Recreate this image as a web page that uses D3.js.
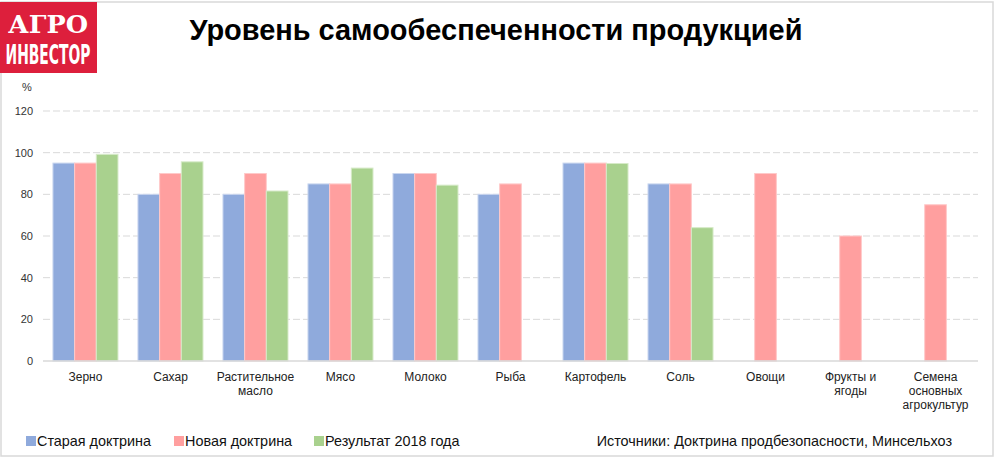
<!DOCTYPE html>
<html>
<head>
<meta charset="utf-8">
<script src="https://cdn.jsdelivr.net/npm/d3@7"></script>
<style>
  body { margin: 0; background: #fff; }
  svg { display: block; font-family: "Liberation Sans", Arial, sans-serif; }
</style>
</head>
<body>
<svg id="chart"></svg>
<script>
const categories = ["Зерно", "Сахар", "Растительное масло", "Мясо", "Молоко", "Рыба",
  "Картофель", "Соль", "Овощи", "Фрукты и ягоды", "Семена основных агрокультур"];
const categoryLines = [["Зерно"], ["Сахар"], ["Растительное", "масло"], ["Мясо"], ["Молоко"], ["Рыба"],
  ["Картофель"], ["Соль"], ["Овощи"], ["Фрукты и", "ягоды"], ["Семена", "основных", "агрокультур"]];
const seriesNames = ["Старая доктрина", "Новая доктрина", "Результат 2018 года"];
const oldDoctrine = [95, 80, 80, 85, 90, 80, 95, 85, null, null, null];
const newDoctrine = [95, 90, 90, 85, 90, 85, 95, 85, 90, 60, 75];
const result2018 = [99.2, 95.6, 81.6, 92.6, 84.4, null, 94.8, 64, null, null, null];
const yTicks = [0, 20, 40, 60, 80, 100, 120];
const colors = ["#8faadc", "#ff9f9f", "#a9d18e"];
const strokes = ["#c9d6ef", "#ffc9c9", "#d6eac8"];

const width = 998, height = 458;
const margin = {left: 43, right: 20, top: 111, bottom: 97};

const svg = d3.select('#chart')
    .attr('width', width)
    .attr('height', height);

// frame
svg.append('rect')
    .attr('x', 1).attr('y', 2)
    .attr('width', 992).attr('height', 454)
    .attr('fill', 'none')
    .attr('stroke', '#d9d9d9')
    .attr('stroke-width', 1.5);

const x = d3.scaleBand()
    .domain(categories)
    .range([margin.left, width - margin.right])
    .paddingInner(0.235)
    .paddingOuter(0.117);

const xSub = d3.scaleBand()
    .domain(seriesNames)
    .range([0, x.bandwidth()]);

const y = d3.scaleLinear()
    .domain([0, 120])
    .range([height - margin.bottom, margin.top]);

// gridlines
svg.append('g')
    .selectAll('line')
    .data(yTicks.filter(t => t > 0))
    .enter()
    .append('line')
    .attr('x1', margin.left)
    .attr('x2', width - margin.right)
    .attr('y1', d => y(d))
    .attr('y2', d => y(d))
    .attr('stroke', '#d9d9d9')
    .attr('stroke-dasharray', '7,3');

// y axis labels
const yAxis = svg.append('g')
    .attr('transform', `translate(${margin.left - 10},0)`)
    .call(d3.axisLeft(y).tickValues(yTicks).tickSize(0).tickPadding(0));
yAxis.select('.domain').remove();
yAxis.selectAll('text')
    .attr('font-size', 11)
    .attr('fill', '#333')
    .attr('font-family', '"Liberation Sans", Arial, sans-serif');

svg.append('text')
    .attr('x', 22).attr('y', 91)
    .attr('font-size', 11)
    .attr('fill', '#333')
    .text('%');

// bars
const series = [oldDoctrine, newDoctrine, result2018];
series.forEach((values, si) => {
    svg.append('g')
        .selectAll('rect')
        .data(values.map((v, i) => ({cat: categories[i], v})).filter(d => d.v !== null))
        .enter()
        .append('rect')
        .attr('x', d => x(d.cat) + xSub(seriesNames[si]))
        .attr('y', d => y(d.v))
        .attr('width', xSub.bandwidth())
        .attr('height', d => y(0) - y(d.v))
        .attr('fill', colors[si])
        .attr('stroke', strokes[si])
        .attr('stroke-width', 1);
});

// baseline
svg.append('line')
    .attr('x1', margin.left).attr('x2', width - margin.right)
    .attr('y1', y(0)).attr('y2', y(0))
    .attr('stroke', '#d9d9d9')
    .attr('stroke-width', 1.5);

// category labels
const catLabels = svg.append('g')
    .selectAll('text')
    .data(categories)
    .enter()
    .append('text')
    .attr('x', d => x(d) + x.bandwidth() / 2)
    .attr('y', 381)
    .attr('text-anchor', 'middle')
    .attr('font-size', 12)
    .attr('fill', '#222');
catLabels.each(function(d, i) {
    d3.select(this).selectAll('tspan')
        .data(categoryLines[i])
        .enter()
        .append('tspan')
        .attr('x', x(d) + x.bandwidth() / 2)
        .attr('dy', (t, j) => j === 0 ? 0 : 14)
        .text(t => t);
});

// legend
const legendX = [26, 174, 314];
const legend = svg.append('g');
seriesNames.forEach((name, i) => {
    legend.append('rect')
        .attr('x', legendX[i]).attr('y', 436)
        .attr('width', 10).attr('height', 10)
        .attr('fill', colors[i]);
    legend.append('text')
        .attr('x', legendX[i] + 11).attr('y', 446)
        .attr('font-size', 14.4)
        .attr('fill', '#111')
        .text(name);
});

svg.append('text')
    .attr('x', 952).attr('y', 446)
    .attr('text-anchor', 'end')
    .attr('font-size', 14.4)
    .attr('fill', '#111')
    .text('Источники: Доктрина продбезопасности, Минсельхоз');

// title
svg.append('text')
    .attr('x', 496).attr('y', 40)
    .attr('text-anchor', 'middle')
    .attr('font-size', 29)
    .attr('font-weight', 'bold')
    .attr('fill', '#000')
    .attr('textLength', 613)
    .attr('lengthAdjust', 'spacingAndGlyphs')
    .text('Уровень самообеспеченности продукцией');

// logo
svg.append('rect')
    .attr('x', 0).attr('y', 2)
    .attr('width', 97).attr('height', 71)
    .attr('fill', '#dd1f3c');
svg.append('text')
    .attr('x', 48).attr('y', 33)
    .attr('text-anchor', 'middle')
    .attr('font-family', '"DejaVu Serif", serif')
    .attr('font-weight', 'bold')
    .attr('font-size', 25)
    .attr('textLength', 80)
    .attr('lengthAdjust', 'spacingAndGlyphs')
    .attr('fill', '#fff')
    .text('АГРО');
svg.append('text')
    .attr('transform', 'translate(48,64) scale(1,1.3)')
    .attr('text-anchor', 'middle')
    .attr('font-family', '"DejaVu Sans Condensed", "DejaVu Sans", sans-serif')
    .attr('font-weight', 'bold')
    .attr('font-size', 20)
    .attr('textLength', 85)
    .attr('lengthAdjust', 'spacingAndGlyphs')
    .attr('fill', '#fff')
    .text('ИНВЕСТОР');
</script>
</body>
</html>
